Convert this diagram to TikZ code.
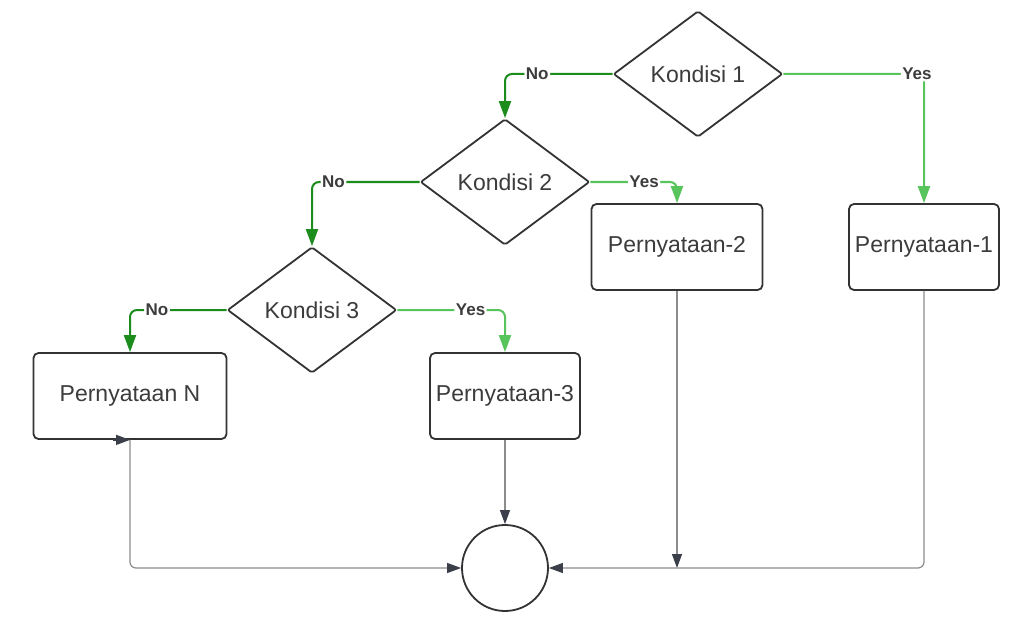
\documentclass[tikz,border=0pt]{standalone}
\usepackage{fontspec}
\setmainfont{Liberation Sans}
\usetikzlibrary{shapes.geometric,arrows.meta}
\definecolor{dgreen}{HTML}{1C8C1C}
\definecolor{lgreen}{HTML}{58C45C}
\definecolor{edge}{HTML}{333333}
\definecolor{txt}{HTML}{3C3C3C}
\definecolor{flow}{HTML}{8C8C8C}
\definecolor{tipc}{HTML}{3A3F4A}
\begin{document}
\begin{tikzpicture}[x=1pt,y=-1pt,
  cond/.style={diamond, draw=edge, line width=1.8pt, minimum width=169pt, minimum height=126pt,
    inner sep=0pt, rounded corners=2pt, font=\fontsize{23}{27}\selectfont, text=txt},
  stmt/.style={rectangle, draw=edge, line width=1.8pt, rounded corners=5pt, inner sep=0pt,
    minimum height=86pt, font=\fontsize{23}{27}\selectfont, text=txt},
  nobr/.style={draw=dgreen, line width=2pt, rounded corners=7pt,
    -{Triangle[width=12pt,length=17pt]}},
  yesbr/.style={draw=lgreen, line width=2pt, rounded corners=7pt,
    -{Triangle[width=12pt,length=17pt]}},
  lbl/.style={fill=white, font=\bfseries\fontsize{17}{19}\selectfont, text=txt, inner sep=1.5pt},
  flowline/.style={draw=flow, line width=1.2pt, rounded corners=6pt,
    -{Triangle[width=10pt,length=14pt,color=tipc]}}
]
\useasboundingbox[fill=white] (0,0) rectangle (1023,623);

\node[cond] (k1) at (698,74) {Kondisi 1};
\node[cond] (k2) at (505,182) {Kondisi 2};
\node[cond] (k3) at (312,310) {Kondisi 3};

\node[stmt, minimum width=171pt] (p2) at (677,247) {Pernyataan-2};
\node[stmt, minimum width=150pt] (p1) at (924,247) {Pernyataan-1};
\node[stmt, minimum width=193pt] (pn) at (130,396) {Pernyataan N};
\node[stmt, minimum width=150pt] (p3) at (505,396) {Pernyataan-3};

\node[circle, draw=edge, line width=1.8pt, minimum size=86pt, inner sep=0pt] (end) at (505,568) {};

% branches
\draw[nobr] (k1.west) -| node[lbl, pos=0.35] {No} (k2.north);
\draw[yesbr] (k1.east) -| node[lbl, pos=0.475] {Yes} (p1.north);
\draw[nobr] (k2.west) -| node[lbl, pos=0.40] {No} (k3.north);
\draw[yesbr] (k2.east) -| node[lbl, pos=0.31] {Yes} (p2.north);
\draw[nobr] (k3.west) -| node[lbl, pos=0.36] {No} (pn.north);
\draw[yesbr] (k3.east) -| node[lbl, pos=0.34] {Yes} (p3.north);

% merge
\coordinate (j) at (p2.south |- end.east);
\draw[flowline] (pn.south) |- (end.west);
\draw[flowline] (p3.south) -- (end.north);
\draw[flowline] (p2.south) -- (j);
\draw[flowline] (p1.south) |- (end.east);
\draw[flowline, draw=tipc, line width=1.5pt] ([xshift=-17pt]pn.south) -- (pn.south);
\end{tikzpicture}
\end{document}
